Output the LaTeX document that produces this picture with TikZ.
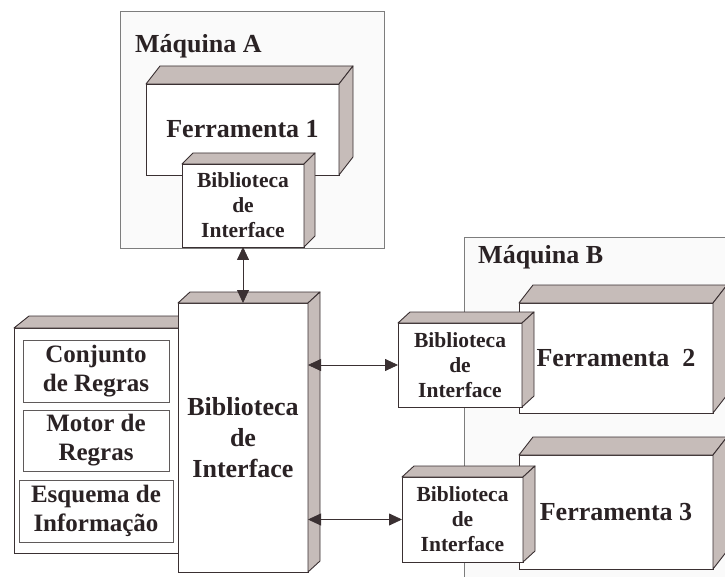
\documentclass[tikz,border=0pt]{standalone}
\usepackage{fontspec}
\setmainfont{Liberation Serif}
\usetikzlibrary{arrows.meta,calc}

\definecolor{edge}{RGB}{58,48,50}
\definecolor{ink}{RGB}{42,34,36}
\definecolor{facegrey}{RGB}{198,188,185}
\definecolor{hostfill}{RGB}{250,250,250}
\definecolor{hostline}{RGB}{125,125,125}
\definecolor{cellline}{RGB}{95,90,90}

\tikzset{
  front/.style={draw=edge, fill=white, line width=0.9pt, inner sep=0pt, outer sep=0pt,
    align=center, text=ink, font=\bfseries},
  face/.style={draw=edge, fill=facegrey, line width=0.9pt, line join=round},
  host/.style={draw=hostline, fill=hostfill, line width=0.9pt},
  hostlabel/.style={anchor=base west, inner sep=0pt, text=ink,
    font=\bfseries\fontsize{26}{30}\selectfont},
  cell/.style={draw=cellline, fill=white, line width=0.7pt, inner sep=0pt, outer sep=0pt,
    align=center, text=ink, font=\bfseries\fontsize{25}{29}\selectfont},
  toolfont/.style={font=\bfseries\fontsize{26}{30}\selectfont},
  libfont/.style={font=\bfseries\fontsize{21.5}{25}\selectfont},
  biglibfont/.style={font=\bfseries\fontsize{26}{31}\selectfont},
  link/.style={draw=edge, line width=0.8pt,
    {Triangle[length=13pt,width=12pt]}-{Triangle[length=13pt,width=12pt]}},
}

% top and right faces of a box whose front face is node #1, receding by (#2,#3)
\newcommand{\cubefaces}[3]{%
  \draw[face] (#1.north west) -- ++(#2,-#3) -- ($(#1.north east)+(#2,-#3)$)
    -- (#1.north east) -- cycle;
  \draw[face] (#1.north east) -- ++(#2,-#3) -- ($(#1.south east)+(#2,-#3)$)
    -- (#1.south east) -- cycle;
}

\begin{document}
\begin{tikzpicture}[x=1pt,y=-1pt]
  \clip (0,0) rectangle (725,577);
  \fill[white] (0,0) rectangle (725,577);

  % machine A
  \draw[host] (120,11) rectangle (384,248);
  \node[hostlabel] (hostA) at (135,53) {Máquina A};

  \node[front, toolfont, minimum width=193pt, minimum height=91pt] (tool1) at (242.5,129.5) {Ferramenta 1};
  \cubefaces{tool1}{14}{18}
  \node[front, libfont, minimum width=122pt, minimum height=83pt] (lib1) at (243,205.5) {Biblioteca\\de\\Interface};
  \cubefaces{lib1}{11}{11}

  % rule engine block
  \node[front, minimum width=186pt, minimum height=225pt] (engine) at (107,440.5) {};
  \cubefaces{engine}{15}{12}
  \node[cell, minimum width=146pt, minimum height=62pt] (rules) at (96,371) {Conjunto\\de Regras};
  \node[cell, minimum width=146pt, minimum height=61pt] (motor) at (96,440.5) {Motor de\\Regras};
  \node[cell, minimum width=154pt, minimum height=62pt] (schema) at (96,511) {Esquema de\\Informação};

  % central interface library
  \node[front, biglibfont, minimum width=130pt, minimum height=269pt] (core) at (243,437.5) {Biblioteca\\de\\Interface};
  \cubefaces{core}{12}{11}

  % machine B
  \draw[host] (464,237) rectangle (760,600);
  \node[hostlabel] (hostB) at (478,263) {Máquina B};

  \node[front, toolfont, minimum width=194pt, minimum height=110pt] (tool2) at (616,358) {Ferramenta\ \ 2};
  \cubefaces{tool2}{14}{18}
  \node[front, libfont, minimum width=124pt, minimum height=84pt] (lib2) at (460,365) {Biblioteca\\de\\Interface};
  \cubefaces{lib2}{12}{11}

  \node[front, toolfont, minimum width=194pt, minimum height=114pt] (tool3) at (616,512) {Ferramenta 3};
  \cubefaces{tool3}{14}{18}
  \node[front, libfont, minimum width=121pt, minimum height=85pt] (lib3) at (462.5,519.5) {Biblioteca\\de\\Interface};
  \cubefaces{lib3}{12}{11}

  % connections
  \draw[link] (lib1.south) -- (core.north);
  \draw[link] (lib2.west -| core.east) -- (lib2.west);
  \draw[link] (lib3.west -| core.east) -- (lib3.west);
\end{tikzpicture}
\end{document}
